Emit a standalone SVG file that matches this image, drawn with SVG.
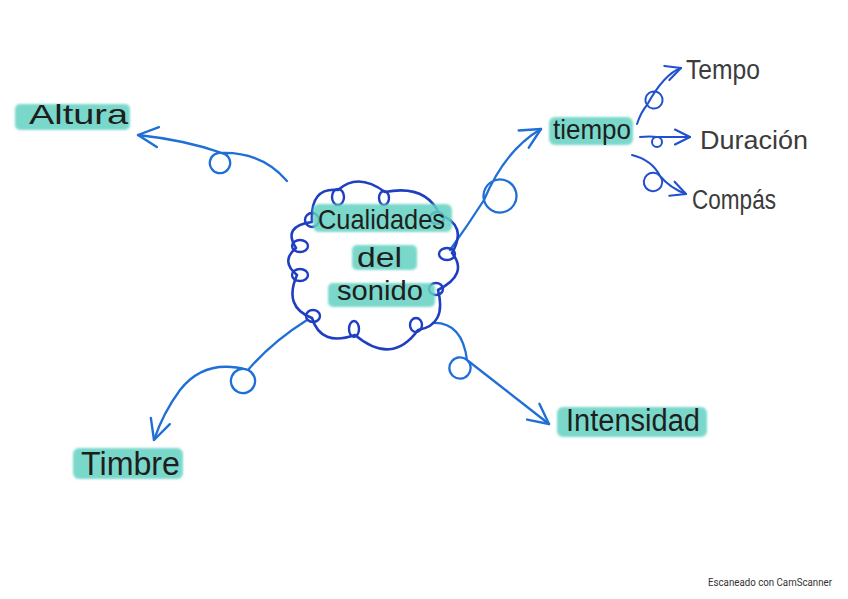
<svg xmlns="http://www.w3.org/2000/svg" width="848" height="599" viewBox="0 0 848 599">
<style>
.hl{fill:#64d2c3;opacity:0.85;filter:url(#soft)}
.lbl{font-family:"Liberation Sans",Arial,sans-serif;fill:#1e1e1e}
.sub{font-family:"Liberation Sans",Arial,sans-serif;fill:#3c3c3c}
.con{fill:none;stroke:#1f6fd6;stroke-width:2.3;stroke-linecap:round;stroke-linejoin:round;marker-end:url(#ah)}
.con2{fill:none;stroke:#2050d0;stroke-width:2;stroke-linecap:round;stroke-linejoin:round;marker-end:url(#ah2)}
.cloud{fill:none;stroke:#1f3fc0;stroke-width:2.6;stroke-linecap:round;stroke-linejoin:round}
</style>
<defs>
<filter id="soft" x="-10%" y="-30%" width="120%" height="160%">
<feGaussianBlur stdDeviation="1.2"/>
</filter>
<marker id="ah" viewBox="0 0 12 12" refX="11" refY="6" markerWidth="24" markerHeight="24" markerUnits="userSpaceOnUse" orient="auto">
<path d="M1,1 L11,6 L1,11" fill="none" stroke="#1f6fd6" stroke-width="1.2" stroke-linecap="round" stroke-linejoin="round"/>
</marker>
<marker id="ah2" viewBox="0 0 12 12" refX="11" refY="6" markerWidth="18" markerHeight="18" markerUnits="userSpaceOnUse" orient="auto">
<path d="M1,1 L11,6 L1,11" fill="none" stroke="#2050d0" stroke-width="1.4" stroke-linecap="round" stroke-linejoin="round"/>
</marker>
</defs>
<rect width="848" height="599" fill="#ffffff"/>

<g id="connectors">
<path id="c-altura" class="con" d="M287,181 Q262,152 222,153 A10,10 0 0,1 218,173 A10,10 0 0,1 222,153 Q185,140 138,135"/>
<path id="c-tiempo" class="con" d="M450,250 Q468,225 484,200 A16,16 0 0,1 516,192 A16,16 0 0,1 484,200 Q505,150 541,129"/>
<path id="c-timbre" class="con" d="M307,320 Q272,342 248,370 A12,12 0 0,0 238,392 A12,12 0 0,0 248,370 Q205,358 180,390 Q163,413 154,440"/>
<path id="c-intensidad" class="con" d="M433,323 Q462,322 467,360 A10.6,10.6 0 0,1 453,376 A10.6,10.6 0 0,1 467,360 L549,424"/>
<path id="c-tempo" class="con2" d="M637,124 Q641,112 647,105 A8.6,8.6 0 0,1 661,95 A8.6,8.6 0 0,1 647,105 Q664,74 681,68"/>
<path id="c-duracion" class="con2" d="M640,137 Q650,136 657,137 A5,5 0 0,1 657,147 A5,5 0 0,1 657,137 L690,137"/>
<path id="c-compas" class="con2" d="M632,155 Q652,160 660,176 A9.2,9.2 0 0,1 646,188 A9.2,9.2 0 0,1 660,176 Q670,188 686,194"/>
</g>

<g id="n-center">
<path class="cloud" d="M312,222 Q310,187 338,190 Q358,172 385,192 Q426,184 440,215 Q468,225 452,253 Q469,274 438,290 Q447,325 418,330 Q392,366 355,335 Q321,347 312,318 Q283,307 297,275 Q280,261 296,248 Q282,226 312,222 Z"/>
<g fill="none" stroke="#1f3fc0" stroke-width="2.4">
<ellipse cx="312" cy="220" rx="7" ry="7"/>
<ellipse cx="338" cy="197" rx="6" ry="8"/>
<ellipse cx="384" cy="198" rx="5" ry="7"/>
<ellipse cx="437" cy="218" rx="7" ry="6"/>
<ellipse cx="447" cy="254" rx="8" ry="6"/>
<ellipse cx="436" cy="289" rx="7" ry="6"/>
<ellipse cx="416" cy="325" rx="6" ry="7"/>
<ellipse cx="354" cy="329" rx="5" ry="8"/>
<ellipse cx="313" cy="316" rx="7" ry="6"/>
<ellipse cx="300" cy="275" rx="8" ry="6"/>
<ellipse cx="300" cy="246" rx="8" ry="6"/>
</g>
<rect class="hl" x="313" y="204" width="139" height="28" rx="6"/>
<rect class="hl" x="352" y="245" width="65" height="25" rx="5"/>
<rect class="hl" x="328" y="283" width="107" height="24" rx="5"/>
<text class="lbl" x="318" y="229" font-size="28" textLength="127" lengthAdjust="spacingAndGlyphs">Cualidades</text>
<text class="lbl" x="357" y="267" font-size="28" textLength="45" lengthAdjust="spacingAndGlyphs">del</text>
<text class="lbl" x="337" y="300" font-size="28" textLength="86" lengthAdjust="spacingAndGlyphs">sonido</text>
</g>

<g id="n-altura">
<rect class="hl" x="15" y="104" width="115" height="26" rx="5"/>
<text class="lbl" x="29" y="124" font-size="28" textLength="99" lengthAdjust="spacingAndGlyphs">Altura</text>
</g>

<g id="n-tiempo">
<rect class="hl" x="549" y="117" width="84" height="28" rx="6"/>
<text class="lbl" x="553" y="139" font-size="28" textLength="78" lengthAdjust="spacingAndGlyphs">tiempo</text>
</g>

<g id="n-tempo">
<text class="sub" x="686" y="79" font-size="27" textLength="74" lengthAdjust="spacingAndGlyphs">Tempo</text>
</g>

<g id="n-duracion">
<text class="sub" x="700" y="149" font-size="25" textLength="108" lengthAdjust="spacingAndGlyphs">Duración</text>
</g>

<g id="n-compas">
<text class="sub" x="692" y="209" font-size="27" textLength="84" lengthAdjust="spacingAndGlyphs">Compás</text>
</g>

<g id="n-timbre">
<rect class="hl" x="73" y="448" width="110" height="31" rx="6"/>
<text class="lbl" x="81" y="475" font-size="34" textLength="99" lengthAdjust="spacingAndGlyphs">Timbre</text>
</g>

<g id="n-intensidad">
<rect class="hl" x="557" y="407" width="150" height="30" rx="6"/>
<text class="lbl" x="566" y="431" font-size="31" textLength="134" lengthAdjust="spacingAndGlyphs">Intensidad</text>
</g>

<text x="708" y="586" font-family="Roboto,'Liberation Sans',sans-serif" font-size="10" fill="#333333" textLength="124" lengthAdjust="spacingAndGlyphs">Escaneado con CamScanner</text>
</svg>
